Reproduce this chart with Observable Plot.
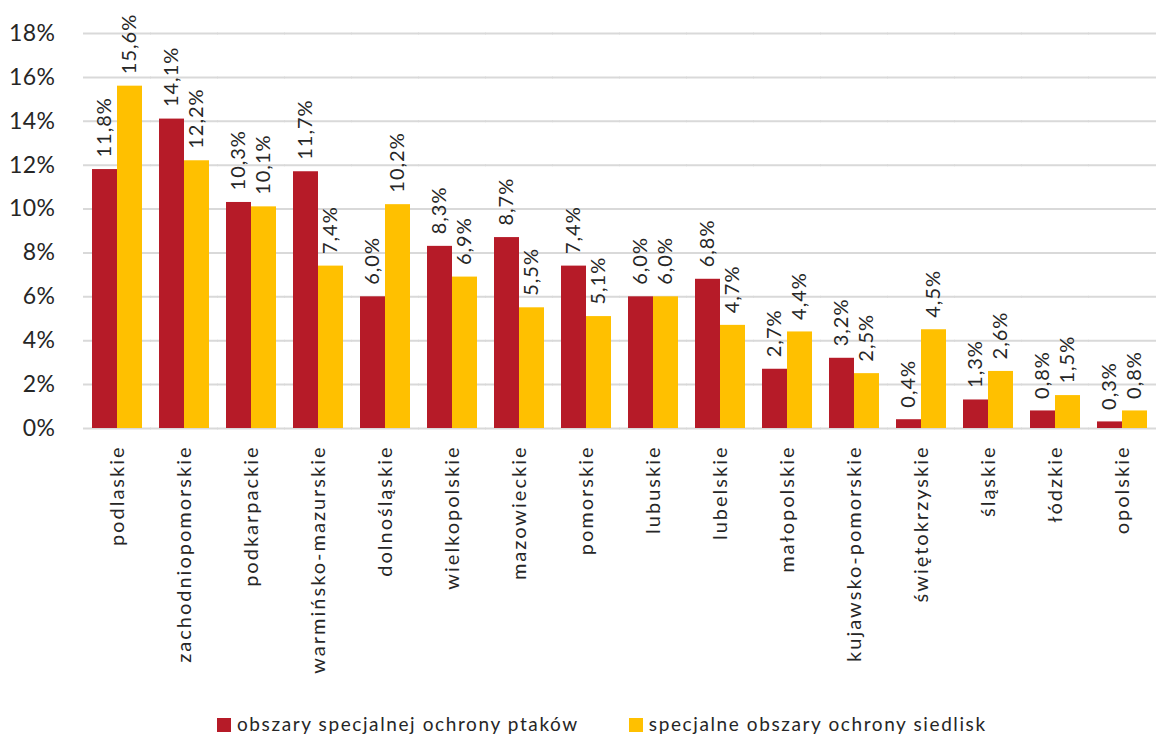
<!DOCTYPE html>
<html>
<head>
<meta charset="utf-8">
<script src="https://cdn.jsdelivr.net/npm/d3@7"></script>
<script src="https://cdn.jsdelivr.net/npm/@observablehq/plot@0.6"></script>
<style>
  body { margin: 0; background: #fff; font-family: Lato, "Open Sans", sans-serif; overflow: hidden; }
  #chart svg g[aria-label^="fx-axis"] text { font-size: 20px; letter-spacing: 2px; }
  #chart svg g[aria-label^="y-axis"] text { font-size: 23px; letter-spacing: 0.5px; }
  #chart svg g[aria-label="text"] text { letter-spacing: 1px; }
  #legend { display: flex; justify-content: flex-start; align-items: center; gap: 50px; margin-top: 23px; padding-left: 217px; font-size: 19px; line-height: 22px; letter-spacing: 1.6px; color: #262626; }
  #legend span.sw { display: inline-block; width: 14px; height: 14px; margin-right: 6px; vertical-align: -1px; }
</style>
</head>
<body>
<div id="chart"></div>
<div id="legend"></div>
<script>
const categories = ["podlaskie","zachodniopomorskie","podkarpackie","warmińsko-mazurskie","dolnośląskie","wielkopolskie","mazowieckie","pomorskie","lubuskie","lubelskie","małopolskie","kujawsko-pomorskie","świętokrzyskie","śląskie","łódzkie","opolskie"];
const seriesNames = ["obszary specjalnej ochrony ptaków","specjalne obszary ochrony siedlisk"];
const birds = [11.8,14.1,10.3,11.7,6.0,8.3,8.7,7.4,6.0,6.8,2.7,3.2,0.4,1.3,0.8,0.3];
const habitats = [15.6,12.2,10.1,7.4,10.2,6.9,5.5,5.1,6.0,4.7,4.4,2.5,4.5,2.6,1.5,0.8];
const colors = ["#B61B28","#FFC000"];
const yTicks = [0,2,4,6,8,10,12,14,16,18];

const data = [];
categories.forEach((c, i) => {
  data.push({region: c, series: seriesNames[0], value: birds[i]});
  data.push({region: c, series: seriesNames[1], value: habitats[i]});
});
const fmt = v => v.toFixed(1).replace(".", ",") + "%";

const chart = Plot.plot({
  width: 1160,
  height: 690,
  marginLeft: 79,
  marginRight: 0,
  marginTop: 33,
  marginBottom: 262,
  style: {fontFamily: "Lato, 'Open Sans', sans-serif", fontSize: "21px", color: "#262626", background: "#fff"},
  fx: {domain: categories, paddingInner: 0.26, paddingOuter: 0.13, label: null, tickRotate: -90, tickSize: 0, tickPadding: 17, axis: "bottom"},
  x: {domain: seriesNames, axis: null, padding: 0},
  y: {domain: [0, 18], ticks: yTicks, tickFormat: d => d + "%", tickSize: 0, tickPadding: 37, label: null},
  color: {domain: seriesNames, range: colors},
  marks: [
    Plot.ruleY(yTicks, {stroke: "#d9d9d9", strokeWidth: 2, insetLeft: -9, insetRight: -9}),
    Plot.barY(data, {fx: "region", x: "series", y: "value", fill: "series"}),
    Plot.text(data, {fx: "region", x: "series", y: "value", text: d => fmt(d.value), rotate: -90, textAnchor: "start", dy: -12, fontSize: 20, fill: "#262626"})
  ]
});
document.getElementById("chart").appendChild(chart);

const legend = document.getElementById("legend");
seriesNames.forEach((s, i) => {
  const item = document.createElement("div");
  item.innerHTML = `<span class="sw" style="background:${colors[i]}"></span>${s}`;
  legend.appendChild(item);
});
</script>
</body>
</html>
